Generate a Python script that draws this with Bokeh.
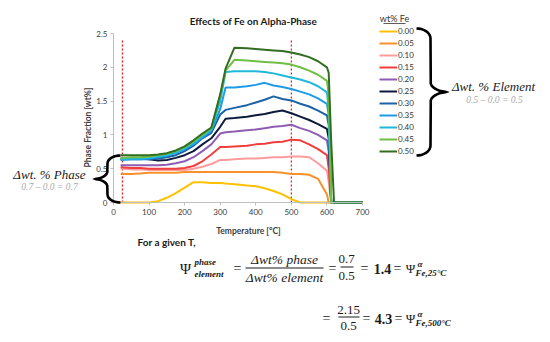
import numpy as np
from bokeh.plotting import figure
from bokeh.models import (Label, Legend, LegendItem, PolyAnnotation, Arrow,
                          Range1d, FixedTicker, LinearAxis)
from bokeh.embed import file_html
from bokeh.resources import INLINE

# ---------------- data ----------------
temperature = [20, 50, 75, 100, 125, 150, 175, 200, 225, 250, 275, 300, 315, 340,
               375, 400, 425, 450, 475, 500, 525, 550, 575, 600, 605, 612, 620, 700]
fe_labels = ["0.00", "0.05", "0.10", "0.15", "0.20", "0.25",
             "0.30", "0.35", "0.40", "0.45", "0.50"]
fe000 = [0, 0, 0, 0, 0.02, 0.07, 0.14, 0.22, 0.30, 0.30, 0.29, 0.29, 0.28, 0.27,
         0.25, 0.24, 0.21, 0.17, 0.12, 0.05, 0, 0, 0, 0, 0, 0, 0, 0]
fe005 = [0.42, 0.42, 0.43, 0.44, 0.44, 0.44, 0.44, 0.45, 0.45, 0.45, 0.45, 0.45, 0.45, 0.45,
         0.45, 0.45, 0.45, 0.45, 0.44, 0.42, 0.42, 0.41, 0.35, 0.12, 0, 0, 0, 0]
fe010 = [0.50, 0.49, 0.49, 0.48, 0.48, 0.48, 0.48, 0.48, 0.50, 0.53, 0.57, 0.63, 0.63, 0.64,
         0.65, 0.65, 0.66, 0.67, 0.67, 0.68, 0.68, 0.67, 0.58, 0.47, 0.30, 0, 0, 0]
fe015 = [0.52, 0.51, 0.51, 0.50, 0.50, 0.50, 0.50, 0.51, 0.54, 0.61, 0.71, 0.82, 0.82, 0.83,
         0.84, 0.86, 0.87, 0.89, 0.90, 0.93, 0.92, 0.86, 0.79, 0.70, 0.50, 0, 0, 0]
fe020 = [0.55, 0.55, 0.55, 0.55, 0.55, 0.56, 0.58, 0.61, 0.67, 0.76, 0.86, 1.02, 1.04, 1.05,
         1.07, 1.08, 1.10, 1.12, 1.13, 1.15, 1.10, 1.06, 1.00, 0.92, 0.75, 0, 0, 0]
fe025 = [0.65, 0.65, 0.65, 0.64, 0.62, 0.63, 0.66, 0.70, 0.76, 0.86, 0.95, 1.12, 1.24, 1.25,
         1.27, 1.29, 1.31, 1.34, 1.36, 1.32, 1.27, 1.22, 1.16, 1.09, 0.95, 0, 0, 0]
fe030 = [0.64, 0.64, 0.64, 0.64, 0.65, 0.67, 0.70, 0.76, 0.84, 0.95, 1.03, 1.30, 1.37, 1.40,
         1.44, 1.48, 1.52, 1.57, 1.53, 1.51, 1.46, 1.42, 1.36, 1.29, 1.15, 0, 0, 0]
fe035 = [0.63, 0.64, 0.64, 0.65, 0.67, 0.69, 0.73, 0.79, 0.86, 0.96, 1.06, 1.38, 1.70, 1.70,
         1.72, 1.74, 1.77, 1.73, 1.71, 1.68, 1.64, 1.60, 1.54, 1.46, 1.30, 0, 0, 0]
fe040 = [0.64, 0.65, 0.65, 0.66, 0.68, 0.70, 0.74, 0.80, 0.88, 0.98, 1.08, 1.50, 1.93, 1.94,
         1.94, 1.94, 1.93, 1.91, 1.88, 1.85, 1.82, 1.78, 1.72, 1.63, 1.40, 0, 0, 0]
fe045 = [0.66, 0.67, 0.67, 0.68, 0.70, 0.72, 0.76, 0.82, 0.90, 1.00, 1.10, 1.58, 1.95, 2.11,
         2.10, 2.09, 2.08, 2.07, 2.06, 2.04, 2.00, 1.95, 1.89, 1.80, 1.60, 0, 0, 0]
fe050 = [0.70, 0.70, 0.70, 0.70, 0.71, 0.73, 0.77, 0.83, 0.92, 1.02, 1.11, 1.60, 1.98, 2.29,
         2.28, 2.27, 2.26, 2.25, 2.24, 2.22, 2.19, 2.15, 2.09, 2.00, 1.92, 0.90, 0, 0]
series = [fe000, fe005, fe010, fe015, fe020, fe025, fe030, fe035, fe040, fe045, fe050]
colors = ["#FFC000", "#F7922A", "#FF9B9B", "#F03E3C", "#8E5CB5", "#0F1B3D",
          "#1B62A6", "#1D9BE6", "#20B8D9", "#70BF44", "#336D22"]
marker_T = [25, 500]
x_ticks = [0, 100, 200, 300, 400, 500, 600, 700]
y_ticks = [0, 0.5, 1, 1.5, 2, 2.5]

# ---------------- layout helpers (canvas pixel -> data) ----------------
W, H = 548, 340
FL, FR, FT, FB = 113, 362, 33, 202   # chart area in canvas pixels


def dx(px):
    return (px - FL) / (FR - FL) * 700


def dy(py):
    return (FB - py) / (FB - FT) * 2.5


p = figure(width=W, height=H, x_range=Range1d(dx(0), dx(W)),
           y_range=Range1d(dy(H), dy(0)), min_border=0,
           x_axis_location=None, y_axis_location=None,
           output_backend="svg", toolbar_location=None, title=None)
p.outline_line_color = None
p.xgrid.visible = False
p.ygrid.visible = False

xaxis = LinearAxis(fixed_location=0, bounds=(0, 700), ticker=FixedTicker(ticks=x_ticks))
yaxis = LinearAxis(fixed_location=0, bounds=(0, 2.5), ticker=FixedTicker(ticks=y_ticks))
yaxis.major_label_overrides = {t: f"{t:g}" for t in y_ticks}
for ax in (xaxis, yaxis):
    ax.axis_line_color = "#BFBFBF"
    ax.major_tick_line_color = "#BFBFBF"
    ax.minor_tick_line_color = None
    ax.major_tick_in = 0
    ax.major_tick_out = 3
    ax.major_label_text_font = "Lato"
    ax.major_label_text_font_size = "8px"
    ax.major_label_text_color = "#404040"
    ax.major_label_standoff = 3
p.add_layout(xaxis, "below")
p.add_layout(yaxis, "left")

# marker lines
for t in marker_T:
    p.line([t, t], [0, 2.42], line_color="#FF1010", line_dash="2 2", line_width=1.2)

renderers = []
for s, c in zip(series, colors):
    r = p.line(temperature, s, line_color=c, line_width=2)
    renderers.append(r)

legend = Legend(items=[LegendItem(label=l, renderers=[r]) for l, r in zip(fe_labels, renderers)],
                location=(379, H - 157), glyph_width=18, glyph_height=12,
                label_height=12, label_standoff=1, spacing=0, padding=0, margin=0,
                border_line_color=None, background_fill_alpha=0,
                label_text_font="Lato", label_text_font_size="8px",
                label_text_color="#333333")
p.add_layout(legend)


def L(text, px, py, size, font="Lato", style="normal", color="#1A1A1A",
      align="center", angle=0.0):
    p.add_layout(Label(x=dx(px), y=dy(py), text=text, text_font=font,
                       text_font_size=f"{size}px", text_font_style=style,
                       text_color=color, text_align=align, text_baseline="middle",
                       angle=angle))


def seg(x0, y0, x1, y1, w=1.0, color="#1A1A1A"):
    p.add_layout(Arrow(end=None, x_start=dx(x0), y_start=dy(y0), x_end=dx(x1),
                       y_end=dy(y1), line_width=w, line_color=color))


def brace(x_end, x_mid, x_tip, y0, y1, ry1, ry2, w=2.6):
    ym = (y0 + y1) / 2
    rx1 = x_end - x_mid
    rx2 = x_mid - x_tip
    pts = []
    for t in np.linspace(0, np.pi / 2, 10):
        pts.append((x_end - rx1 * np.sin(t), y0 + ry1 - ry1 * np.cos(t)))
    for t in np.linspace(0, np.pi / 2, 10)[1:]:
        pts.append((x_tip + rx2 * np.cos(t), ym - ry2 + ry2 * np.sin(t)))
    upper = np.array(pts)
    lower = upper[::-1][1:].copy()
    lower[:, 1] = 2 * ym - lower[:, 1]
    c = np.vstack([upper, lower])
    tan = np.gradient(c, axis=0)
    tan /= np.linalg.norm(tan, axis=1)[:, None]
    nrm = np.column_stack([-tan[:, 1], tan[:, 0]])
    a = c + nrm * w / 2
    b = c - nrm * w / 2
    poly = np.vstack([a, b[::-1]])
    p.add_layout(PolyAnnotation(xs=[dx(v) for v in poly[:, 0]],
                                ys=[dy(v) for v in poly[:, 1]],
                                fill_color="black", fill_alpha=1, line_color=None))


# titles / axis labels
L("Effects of Fe on Alpha-Phase", 253, 20, 10, style="bold")
L("Temperature [°C]", 248, 230, 8.5, style="bold", color="#404040")
L("Phase Fraction [wt%]", 87, 127, 8.5, style="bold", color="#404040", angle=np.pi / 2)

# legend title
L("wt% Fe", 394, 18, 9, color="#333333")
seg(383, 23, 405, 23, 0.8, "#333333")

# braces
brace(120, 107, 93, 155, 202, 8, 8)
brace(416, 430, 448, 28, 155, 10, 10)
L("Δwt. % Phase", 49, 174, 13, font="Liberation Serif", style="italic")
L("0.7 – 0.0 = 0.7", 49, 186, 9.5, font="Liberation Serif", style="italic", color="#AAAAAA")
L("Δwt. % Element", 493, 86, 13, font="Liberation Serif", style="italic")
L("0.5 – 0.0 = 0.5", 494, 99, 9.5, font="Liberation Serif", style="italic", color="#AAAAAA")

# equations
SF = "Liberation Serif"
L("For a given T,", 137, 241, 10, style="bold", align="left")
L("Ψ", 185, 268, 15, font=SF)
L("phase", 194, 261, 9, font=SF, style="bold italic", align="left")
L("element", 194, 273, 9, font=SF, style="bold italic", align="left")
L("=", 237, 268, 14, font=SF)
L("Δwt% phase", 284, 259, 13.5, font=SF, style="italic")
seg(245, 267.5, 323, 267.5)
L("Δwt% element", 284, 277, 13.5, font=SF, style="italic")
L("=", 332, 268, 14, font=SF)
L("0.7", 346, 258, 13, font=SF)
seg(340, 266.5, 353, 266.5)
L("0.5", 346, 275, 13, font=SF)
L("=", 364, 268, 14, font=SF)
L("1.4", 382, 268, 14, font=SF, style="bold")
L("=", 397, 268, 14, font=SF)
L("Ψ", 410, 268, 13, font=SF)
L("α", 417, 263, 9, font=SF, style="bold italic", align="left")
L("Fe,25°C", 415, 272, 9, font=SF, style="bold italic", align="left")

L("=", 326, 318, 14, font=SF)
L("2.15", 348, 309, 13, font=SF)
seg(338, 316.5, 359, 316.5)
L("0.5", 348, 325, 13, font=SF)
L("=", 366, 318, 14, font=SF)
L("4.3", 383, 318, 14, font=SF, style="bold")
L("=", 398, 318, 14, font=SF)
L("Ψ", 410, 318, 13, font=SF)
L("α", 417, 313, 9, font=SF, style="bold italic", align="left")
L("Fe,500°C", 415, 322, 9, font=SF, style="bold italic", align="left")

open("out.html", "w").write(file_html(p, INLINE))
